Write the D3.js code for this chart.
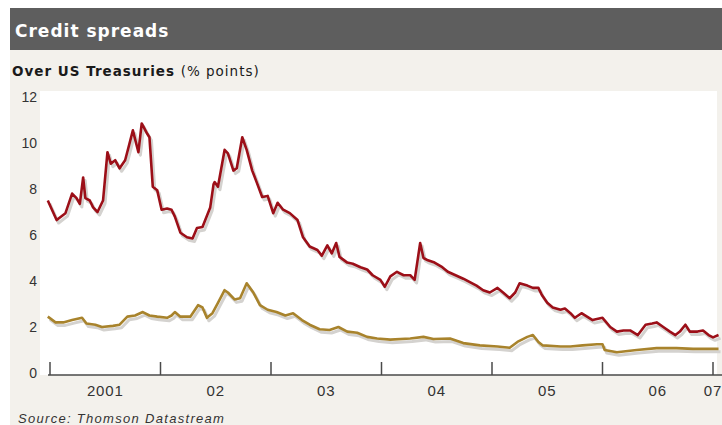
<!DOCTYPE html>
<html>
<head>
<meta charset="utf-8">
<script src="https://cdn.jsdelivr.net/npm/d3@7"></script>
<style>
	body { margin: 0; background: #ffffff; }
	svg { display: block; }
</style>
</head>
<body>
<div id="chart"></div>
<script>

// values: [decimal year, % points]
var upperSpread = [
	[2000.98, 7.5], [2001.06, 6.65], [2001.14, 6.95], [2001.20, 7.8], [2001.24, 7.6],
	[2001.27, 7.35], [2001.30, 8.5], [2001.32, 7.6], [2001.36, 7.5], [2001.39, 7.2],
	[2001.43, 7.0], [2001.48, 7.5], [2001.52, 9.6], [2001.55, 9.1], [2001.59, 9.25],
	[2001.63, 8.9], [2001.68, 9.25], [2001.71, 9.8], [2001.75, 10.55], [2001.80, 9.6],
	[2001.83, 10.85], [2001.88, 10.4], [2001.90, 10.25], [2001.93, 8.1], [2001.97, 7.95],
	[2002.01, 7.1], [2002.06, 7.15], [2002.10, 7.1], [2002.13, 6.8], [2002.18, 6.1],
	[2002.24, 5.9], [2002.29, 5.85], [2002.33, 6.3], [2002.38, 6.35], [2002.45, 7.2],
	[2002.48, 8.2], [2002.49, 8.3], [2002.52, 8.1], [2002.58, 9.7], [2002.61, 9.55],
	[2002.66, 8.8], [2002.69, 8.9], [2002.74, 10.25], [2002.78, 9.7], [2002.83, 8.8],
	[2002.87, 8.3], [2002.92, 7.65], [2002.97, 7.7], [2003.02, 6.95], [2003.06, 7.4],
	[2003.11, 7.1], [2003.17, 6.95], [2003.24, 6.65], [2003.29, 5.9], [2003.35, 5.5],
	[2003.42, 5.35], [2003.46, 5.1], [2003.51, 5.55], [2003.55, 5.2], [2003.59, 5.65],
	[2003.62, 5.05], [2003.69, 4.8], [2003.74, 4.75], [2003.81, 4.6], [2003.87, 4.5],
	[2003.92, 4.25], [2003.99, 4.05], [2004.03, 3.75], [2004.08, 4.2], [2004.14, 4.4],
	[2004.20, 4.25], [2004.26, 4.25], [2004.30, 4.05], [2004.35, 5.65], [2004.38, 5.0],
	[2004.42, 4.9], [2004.48, 4.8], [2004.55, 4.6], [2004.60, 4.4], [2004.67, 4.25],
	[2004.74, 4.1], [2004.80, 3.95], [2004.86, 3.8], [2004.92, 3.6], [2004.98, 3.5],
	[2005.05, 3.7], [2005.10, 3.5], [2005.16, 3.25], [2005.21, 3.5], [2005.25, 3.9],
	[2005.32, 3.8], [2005.37, 3.7], [2005.42, 3.7], [2005.45, 3.4], [2005.50, 3.05],
	[2005.55, 2.85], [2005.62, 2.75], [2005.66, 2.8], [2005.71, 2.6], [2005.75, 2.4],
	[2005.81, 2.6], [2005.86, 2.45], [2005.91, 2.3], [2006.00, 2.4], [2006.07, 2.0],
	[2006.13, 1.8], [2006.19, 1.85], [2006.25, 1.85], [2006.32, 1.65], [2006.39, 2.1],
	[2006.45, 2.15], [2006.49, 2.2], [2006.55, 2.0], [2006.61, 1.8], [2006.66, 1.65],
	[2006.70, 1.8], [2006.75, 2.1], [2006.79, 1.8], [2006.86, 1.8], [2006.91, 1.85],
	[2006.96, 1.65], [2007.00, 1.55], [2007.05, 1.65]
];

var lowerSpread = [
	[2000.98, 2.45], [2001.05, 2.2], [2001.12, 2.2], [2001.20, 2.3], [2001.29, 2.4],
	[2001.33, 2.15], [2001.41, 2.1], [2001.47, 2.0], [2001.57, 2.05], [2001.63, 2.1],
	[2001.70, 2.45], [2001.77, 2.5], [2001.84, 2.65], [2001.90, 2.5], [2001.97, 2.45],
	[2002.06, 2.4], [2002.10, 2.5], [2002.13, 2.65], [2002.18, 2.45], [2002.27, 2.45],
	[2002.34, 2.95], [2002.38, 2.85], [2002.42, 2.4], [2002.47, 2.6], [2002.52, 3.05],
	[2002.58, 3.6], [2002.61, 3.5], [2002.67, 3.2], [2002.72, 3.25], [2002.78, 3.9],
	[2002.84, 3.5], [2002.90, 2.95], [2002.97, 2.75], [2003.05, 2.65], [2003.13, 2.5],
	[2003.20, 2.6], [2003.28, 2.3], [2003.35, 2.1], [2003.44, 1.9], [2003.53, 1.87],
	[2003.61, 2.0], [2003.69, 1.8], [2003.78, 1.75], [2003.87, 1.57], [2003.96, 1.5],
	[2004.08, 1.45], [2004.26, 1.5], [2004.38, 1.57], [2004.47, 1.48], [2004.62, 1.5],
	[2004.74, 1.3], [2004.89, 1.2], [2005.05, 1.15], [2005.16, 1.1], [2005.23, 1.35],
	[2005.32, 1.57], [2005.37, 1.65], [2005.42, 1.35], [2005.46, 1.2], [2005.62, 1.15],
	[2005.71, 1.15], [2005.82, 1.2], [2005.95, 1.25], [2006.00, 1.25], [2006.02, 1.0],
	[2006.13, 0.9], [2006.31, 1.0], [2006.49, 1.08], [2006.67, 1.08], [2006.82, 1.05],
	[2006.95, 1.05], [2007.05, 1.05]
];

var yTicks = [0, 2, 4, 6, 8, 10, 12];
var yearTicks = [2001, 2002, 2003, 2004, 2005, 2006, 2007];
var yearLabels = ["2001", "02", "03", "04", "05", "06", "07"];
var yearLabelPos = [2001.5, 2002.5, 2003.5, 2004.5, 2005.5, 2006.5, 2007.0];

var width = 722, height = 425;

var svg = d3.select("#chart")
	.append("svg")
	.attr("width", width)
	.attr("height", height);

// backgrounds
svg.append("rect")
	.attr("x", 10).attr("y", 50)
	.attr("width", width - 10).attr("height", height - 50)
	.style("fill", "#f3f1ec");

svg.append("rect")
	.attr("x", 10).attr("y", 8)
	.attr("width", width - 10).attr("height", 42)
	.style("fill", "#5e5e5e");

svg.append("text")
	.attr("x", 15).attr("y", 37)
	.style("font-family", "DejaVu Sans")
	.style("font-weight", "bold")
	.style("font-size", "17px")
	.style("letter-spacing", "1px")
	.style("fill", "#ffffff")
	.text("Credit spreads");

var sub = svg.append("text")
	.attr("x", 12).attr("y", 76)
	.style("font-family", "DejaVu Sans")
	.style("font-size", "13.5px")
	.style("letter-spacing", "1px")
	.style("fill", "#1a1a1a");
sub.append("tspan").style("font-weight", "bold").text("Over US Treasuries ");
sub.append("tspan").text("(% points)");

svg.append("rect")
	.attr("x", 40).attr("y", 91)
	.attr("width", 677).attr("height", 284)
	.style("fill", "#ffffff");

var x = d3.scaleLinear()
	.domain([2001, 2007])
	.range([50, 713]);

var y = d3.scaleLinear()
	.domain([0, 12])
	.range([373, 97]);

// y labels, no axis line
svg.selectAll(".ylab")
	.data(yTicks)
	.enter()
	.append("text")
	.attr("class", "ylab")
	.attr("x", 37)
	.attr("y", function(d)
	{
		return y(d);
	})
	.attr("dy", "0.36em")
	.attr("text-anchor", "end")
	.style("font-family", "Liberation Sans")
	.style("font-size", "14px")
	.style("fill", "#333")
	.text(function(d)
	{
		return d;
	});

// x axis line and year ticks
svg.append("line")
	.attr("x1", 48).attr("x2", width)
	.attr("y1", 375).attr("y2", 375)
	.style("stroke", "#4a4a4a")
	.style("stroke-width", 1.5);

svg.selectAll(".ytick")
	.data(yearTicks)
	.enter()
	.append("line")
	.attr("class", "ytick")
	.attr("x1", function(d) { return x(d); })
	.attr("x2", function(d) { return x(d); })
	.attr("y1", 362).attr("y2", 375)
	.style("stroke", "#4a4a4a")
	.style("stroke-width", 1.5);

svg.selectAll(".xlab")
	.data(yearLabels)
	.enter()
	.append("text")
	.attr("class", "xlab")
	.attr("x", function(d, i)
	{
		return x(yearLabelPos[i]);
	})
	.attr("y", 396)
	.attr("text-anchor", "middle")
	.style("font-family", "Liberation Sans")
	.style("font-size", "15px")
	.style("letter-spacing", "0.8px")
	.style("fill", "#333")
	.text(function(d)
	{
		return d;
	});

var line = d3.line()
	.x(function(d) { return x(d[0]); })
	.y(function(d) { return y(d[1]); });

var series = [
	{ data: lowerSpread, color: "#a8832c" },
	{ data: upperSpread, color: "#9c0f18" }
];

// soft drop shadow under each line
svg.selectAll(".shadow")
	.data(series)
	.enter()
	.append("path")
	.attr("class", "shadow")
	.attr("d", function(d) { return line(d.data); })
	.attr("transform", "translate(2,3)")
	.style("fill", "none")
	.style("stroke", "#d4d2cf")
	.style("stroke-width", 3)
	.style("stroke-linejoin", "round");

svg.selectAll(".series")
	.data(series)
	.enter()
	.append("path")
	.attr("class", "series")
	.attr("d", function(d) { return line(d.data); })
	.style("fill", "none")
	.style("stroke", function(d) { return d.color; })
	.style("stroke-width", 2.6)
	.style("stroke-linejoin", "round");

svg.append("text")
	.attr("x", 18).attr("y", 423)
	.style("font-family", "Liberation Sans")
	.style("font-style", "italic")
	.style("font-size", "13px")
	.style("letter-spacing", "1.3px")
	.style("fill", "#333")
	.text("Source: Thomson Datastream");

</script>
</body>
</html>
